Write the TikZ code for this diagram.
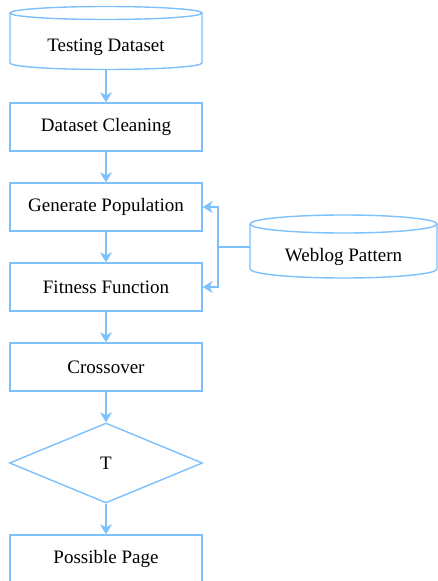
\documentclass[tikz,border=0pt]{standalone}
\usepackage{fontspec}
\setmainfont{Liberation Serif}
\usetikzlibrary{shapes.geometric}
\usetikzlibrary{arrows.meta}
\definecolor{flowblue}{RGB}{125,192,252}

\begin{document}
\begin{tikzpicture}[x=1pt,y=1pt,
  line/.style={draw=flowblue,line width=1.4pt},
  flow/.style={line,-{Stealth[length=10pt,width=12pt,inset=3pt]}},
  proc/.style={line,rectangle,minimum width=192pt,minimum height=48pt,inner sep=0pt},
  dbtext/.style={rectangle,inner sep=0pt},
  decide/.style={line,diamond,minimum width=193pt,minimum height=80pt,inner sep=0pt},
  every node/.style={font=\fontsize{19}{22}\selectfont}]
\useasboundingbox (0,0) rectangle (438,-581);
% cylinders
\draw[line] (106,-13) ellipse [x radius=96pt, y radius=6.5pt];
\draw[line] (10,-13) -- (10,-63) arc [start angle=180, end angle=360, x radius=96pt, y radius=6.5pt] -- (202,-13);
\draw[line] (343.5,-224) ellipse [x radius=93.5pt, y radius=9pt];
\draw[line] (250,-224) -- (250,-269) arc [start angle=180, end angle=360, x radius=93.5pt, y radius=9pt] -- (437,-224);
\node[dbtext,minimum height=44pt] (test) at (106,-47) {Testing Dataset};
\node[dbtext,minimum width=187pt] (weblog) at (343.5,-257) {Weblog Pattern};
% main column
\node[proc] (clean) at (106,-127) {Dataset Cleaning};
\node[proc] (genpop) at (106,-207) {Generate Population};
\node[proc] (fit) at (106,-287) {Fitness Function};
\node[proc] (cross) at (106,-367) {Crossover};
\node[decide] (tdec) at (106,-463) {T};
\node[proc] (page) at (106,-559) {Possible Page};
\draw[flow] (test.south) -- (clean.north);
\draw[flow] (clean.south) -- (genpop.north);
\draw[flow] (genpop.south) -- (fit.north);
\draw[flow] (fit.south) -- (cross.north);
\draw[flow] (cross.south) -- (tdec.north);
\draw[flow] (tdec.south) -- (page.north);
% pattern feed
\coordinate (bus) at (218,-247);
\draw[line] ([yshift=10pt]weblog.west) -- (bus);
\draw[flow] (bus) |- (genpop.east);
\draw[flow] (bus) |- (fit.east);
\end{tikzpicture}
\end{document}
